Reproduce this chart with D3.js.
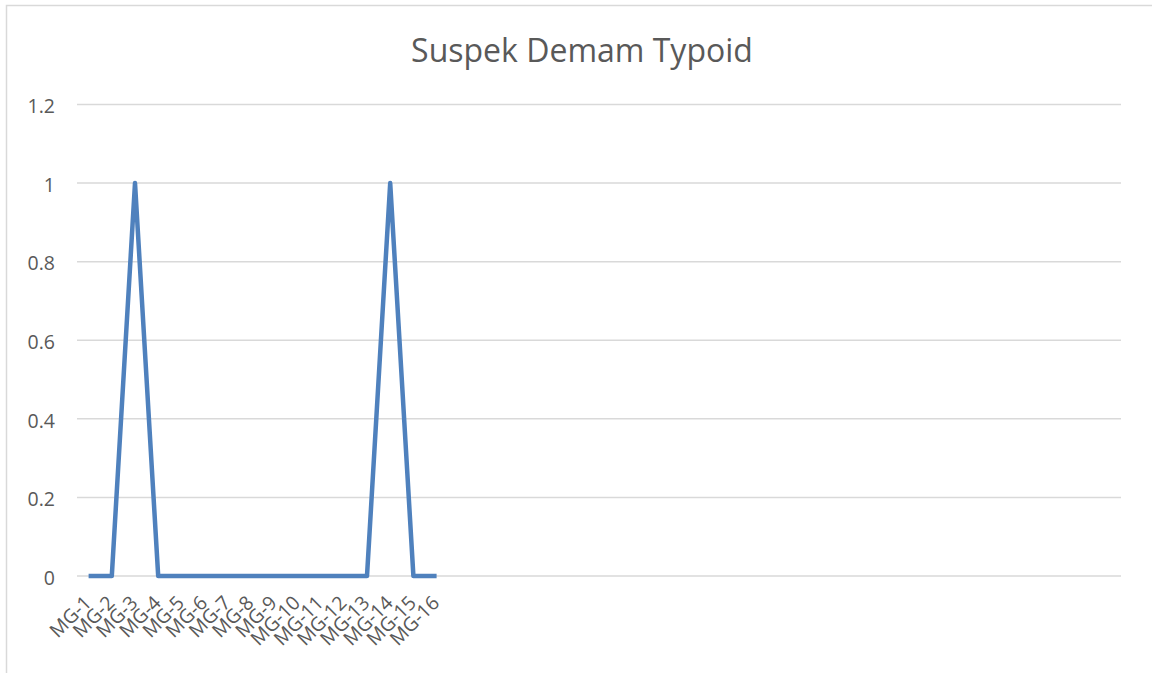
<!DOCTYPE html>
<html>
<head>
<meta charset="utf-8">
<script src="https://cdn.jsdelivr.net/npm/d3@7"></script>
<style>
  html, body { margin: 0; padding: 0; background: #fff; }
  svg { display: block; }
</style>
</head>
<body>
<svg id="chart" width="1152" height="673"></svg>
<script>
// ---- data ----
const title = "Suspek Demam Typoid";
const labels = ["MG-1","MG-2","MG-3","MG-4","MG-5","MG-6","MG-7","MG-8","MG-9","MG-10","MG-11","MG-12","MG-13","MG-14","MG-15","MG-16"];
const values = [0,0,1,0,0,0,0,0,0,0,0,0,0,1,0,0];
const totalSlots = 45; // category axis also holds empty slots after MG-16
const yTicks = [0, 0.2, 0.4, 0.6, 0.8, 1, 1.2];
const yTickLabels = ["0","0.2","0.4","0.6","0.8","1","1.2"];

// ---- layout ----
const W = 1152, H = 673;
const plot = { left: 77, right: 1121, top: 104.5, bottom: 576 };
const textColor = "#595959";
const gridColor = "#d9d9d9";
const lineColor = "#4f81bd";
const font = "'Open Sans', 'Liberation Sans', sans-serif";

const svg = d3.select("#chart");

// chart border (extends beyond the viewport at right/bottom)
svg.append("rect")
  .attr("x", 6.5).attr("y", 5.5)
  .attr("width", W + 20).attr("height", H + 20)
  .attr("fill", "#fff")
  .attr("stroke", gridColor).attr("stroke-width", 1.5);

const slots = d3.range(totalSlots).map(i => i < labels.length ? labels[i] : "__empty" + i);

const x = d3.scaleBand().domain(slots).range([plot.left, plot.right]).padding(0);
const y = d3.scaleLinear().domain([0, 1.2]).range([plot.bottom, plot.top]);

// gridlines
svg.append("g").selectAll("line").data(yTicks).join("line")
  .attr("x1", plot.left).attr("x2", plot.right)
  .attr("y1", d => y(d)).attr("y2", d => y(d))
  .attr("stroke", gridColor).attr("stroke-width", 1.5);

// y axis labels
const yAxis = d3.axisLeft(y).tickValues(yTicks).tickSize(0).tickPadding(0)
  .tickFormat((d, i) => yTickLabels[i]);
const gy = svg.append("g").attr("transform", `translate(${plot.left - 22},0)`).call(yAxis);
gy.select(".domain").remove();
gy.selectAll("text")
  .attr("fill", textColor)
  .style("font-family", font)
  .style("font-size", "19.5px")
  .attr("dy", "0.42em");

// x axis labels
const xAxis = d3.axisBottom(x).tickSize(0).tickPadding(0)
  .tickFormat(d => d.startsWith("__empty") ? "" : d);
const gx = svg.append("g").attr("transform", `translate(0,${plot.bottom})`).call(xAxis);
gx.select(".domain").remove();
gx.selectAll("text")
  .attr("fill", textColor)
  .style("font-family", font)
  .style("font-size", "19.5px")
  .attr("text-anchor", "end")
  .attr("y", 0).attr("dy", 0)
  .attr("transform", "translate(4,28) rotate(-45)");

// line
const line = d3.line()
  .x((d, i) => x(labels[i]) + x.bandwidth() / 2)
  .y(d => y(d));
svg.append("path")
  .datum(values)
  .attr("d", line)
  .attr("fill", "none")
  .attr("stroke", lineColor)
  .attr("stroke-width", 4.5)
  .attr("stroke-linejoin", "round")
  .attr("stroke-linecap", "butt");

// title
svg.append("text")
  .attr("x", 582).attr("y", 62)
  .attr("text-anchor", "middle")
  .attr("fill", textColor)
  .style("font-family", font)
  .style("font-size", "32px")
  .text(title);
</script>
</body>
</html>
